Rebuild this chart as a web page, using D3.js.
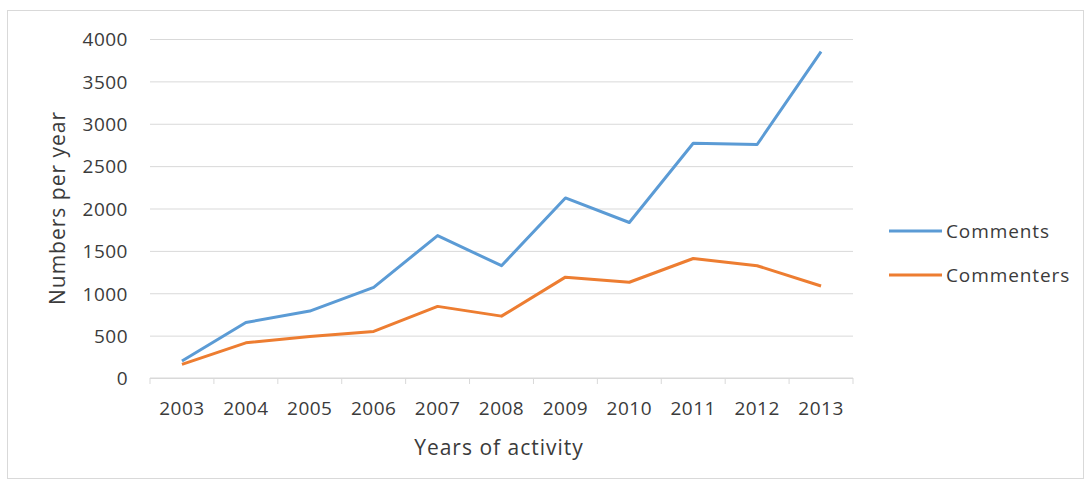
<!DOCTYPE html>
<html>
<head>
<meta charset="utf-8">
<script src="https://cdn.jsdelivr.net/npm/d3@7"></script>
<style>
  html, body { margin: 0; padding: 0; background: #fff; }
  svg { display: block; }
  text { font-family: "Open Sans", Lato, sans-serif; fill: #3b3b3b; }
</style>
</head>
<body>
<svg id="chart" width="1089" height="486"></svg>
<script>
// Yearly activity counts
const years = ["2003","2004","2005","2006","2007","2008","2009","2010","2011","2012","2013"];
const comments   = [200, 655, 790, 1070, 1680, 1325, 2125, 1835, 2770, 2755, 3850];
const commenters = [160, 415, 490, 550, 845, 730, 1190, 1130, 1410, 1325, 1085];
const yTicks = [0, 500, 1000, 1500, 2000, 2500, 3000, 3500, 4000];
const seriesNames = ["Comments", "Commenters"];
const seriesColors = ["#5B9BD5", "#ED7D31"];

const svg = d3.select("#chart");
const plot = { left: 150, right: 853, top: 39, bottom: 378 };

// outer chart frame
svg.append("rect")
  .attr("x", 7.5).attr("y", 10.5)
  .attr("width", 1076).attr("height", 468)
  .attr("fill", "#fff").attr("stroke", "#d9d9d9").attr("stroke-width", 1);

const x = d3.scaleBand().domain(years).range([plot.left, plot.right]);
const y = d3.scaleLinear().domain([0, 4000]).range([plot.bottom, plot.top]);

// horizontal gridlines + y tick labels
const yAxis = d3.axisLeft(y).tickValues(yTicks).tickSize(-(plot.right - plot.left)).tickPadding(22).tickFormat(d3.format("d"));
const gy = svg.append("g").attr("transform", `translate(${plot.left},0)`).call(yAxis);
gy.select(".domain").remove();
gy.selectAll(".tick line").attr("stroke", "#d9d9d9").attr("stroke-width", 1);
gy.selectAll(".tick text").attr("font-size", 19).attr("letter-spacing", 0.5)
  .attr("fill", "#3b3b3b").attr("dy", "0.36em")
  .attr("font-family", "'Open Sans', sans-serif");

// category axis with boundary tick marks
const gx = svg.append("g").attr("transform", `translate(0,${plot.bottom})`);
gx.append("line").attr("x1", plot.left).attr("x2", plot.right).attr("stroke", "#d9d9d9");
const bounds = years.map(d => x(d)).concat([plot.right]);
gx.selectAll("line.tk").data(bounds).join("line").attr("class", "tk")
  .attr("x1", d => d).attr("x2", d => d).attr("y1", 0).attr("y2", 6).attr("stroke", "#d9d9d9");
gx.selectAll("text.lbl").data(years).join("text").attr("class", "lbl")
  .attr("x", d => x(d) + x.bandwidth() / 2).attr("y", 37)
  .attr("text-anchor", "middle").attr("font-size", 19).attr("letter-spacing", 0.5).text(d => d);

// axis titles
svg.append("text").attr("x", 499).attr("y", 455)
  .attr("text-anchor", "middle").attr("font-size", 21).attr("letter-spacing", 1).text("Years of activity");
svg.append("text").attr("transform", "translate(65,208) rotate(-90)")
  .attr("text-anchor", "middle").attr("font-size", 21).attr("letter-spacing", 1).text("Numbers per year");

// series lines
const line = d3.line().x((d, i) => x(years[i]) + x.bandwidth() / 2).y(d => y(d));
[comments, commenters].forEach((vals, i) => {
  svg.append("path").datum(vals)
    .attr("fill", "none").attr("stroke", seriesColors[i]).attr("stroke-width", 3)
    .attr("stroke-linejoin", "round").attr("d", line);
});

// legend
const lg = svg.append("g");
seriesNames.forEach((name, i) => {
  const ly = 231 + i * 44;
  lg.append("line").attr("x1", 889).attr("x2", 942).attr("y1", ly).attr("y2", ly)
    .attr("stroke", seriesColors[i]).attr("stroke-width", 3);
  lg.append("text").attr("x", 946).attr("y", ly).attr("dy", "0.36em")
    .attr("font-size", 19).attr("letter-spacing", 0.9).text(name);
});
</script>
</body>
</html>
